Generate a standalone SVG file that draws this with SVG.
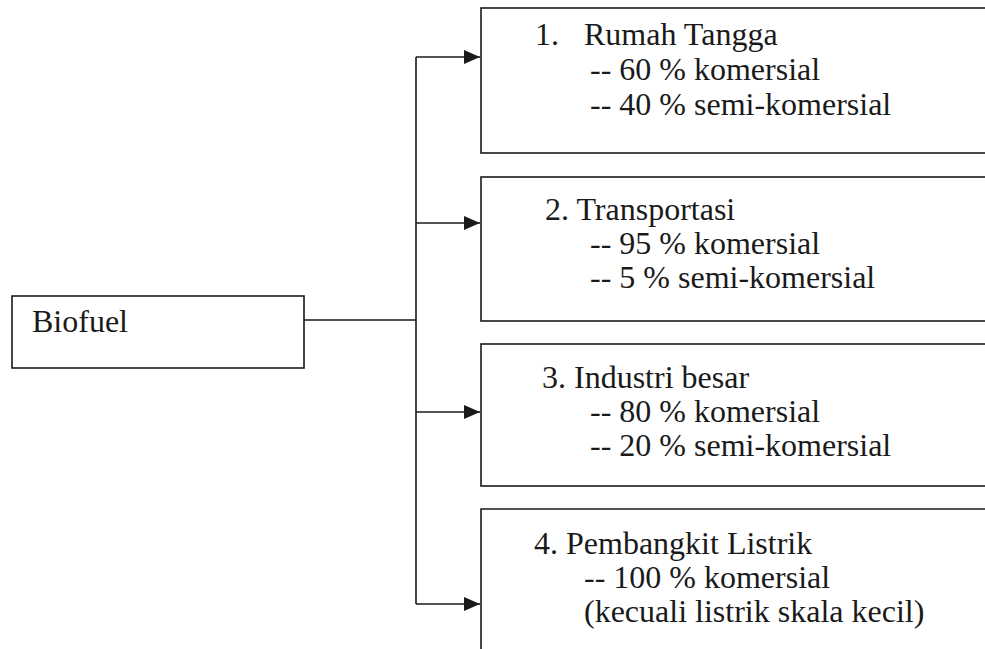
<svg xmlns="http://www.w3.org/2000/svg" width="985" height="649" viewBox="0 0 985 649">
<style>
.box{fill:none;stroke:#1a1a1a;stroke-width:1.6}
.ln{fill:none;stroke:#1a1a1a;stroke-width:1.6}
.t{font-family:'Liberation Serif','DejaVu Serif','Times New Roman',serif;font-size:32px;fill:#1a1a1a}
</style>
<defs>
<marker id="arr" markerUnits="userSpaceOnUse" markerWidth="17" markerHeight="14" refX="16" refY="7" orient="auto">
<path d="M0,0 L16,7 L0,14 Z" fill="#1a1a1a"/>
</marker>
</defs>
<rect width="985" height="649" fill="#ffffff"/>
<g id="connectors">
<path class="ln" d="M304,320 H416"/>
<path class="ln" d="M416,57 V604"/>
<path class="ln" d="M416,57 H480" marker-end="url(#arr)"/>
<path class="ln" d="M416,223 H480" marker-end="url(#arr)"/>
<path class="ln" d="M416,412 H480" marker-end="url(#arr)"/>
<path class="ln" d="M416,604 H480" marker-end="url(#arr)"/>
</g>
<g id="biofuel" class="t" font-family="Liberation Serif, serif">
<rect class="box" x="12" y="296" width="292" height="72"/>
<text x="32" y="332">Biofuel</text>
</g>
<g id="rumah-tangga" class="t" font-family="Liberation Serif, serif">
<rect class="box" x="481" y="8" width="520" height="145"/>
<text x="535" y="45">1.</text>
<text x="584" y="45">Rumah Tangga</text>
<text x="590" y="80">-- 60 % komersial</text>
<text x="590" y="115">-- 40 % semi-komersial</text>
</g>
<g id="transportasi" class="t" font-family="Liberation Serif, serif">
<rect class="box" x="481" y="177" width="520" height="144"/>
<text x="545" y="220">2. Transportasi</text>
<text x="590" y="254">-- 95 % komersial</text>
<text x="590" y="288">-- 5 % semi-komersial</text>
</g>
<g id="industri-besar" class="t" font-family="Liberation Serif, serif">
<rect class="box" x="481" y="344" width="520" height="142"/>
<text x="542" y="388">3. Industri besar</text>
<text x="590" y="422">-- 80 % komersial</text>
<text x="590" y="456">-- 20 % semi-komersial</text>
</g>
<g id="pembangkit-listrik" class="t" font-family="Liberation Serif, serif">
<path class="box" d="M1001,509 H481 V660"/>
<text x="534" y="554">4. Pembangkit Listrik</text>
<text x="584" y="588">-- 100 % komersial</text>
<text x="584" y="622">(kecuali listrik skala kecil)</text>
</g>
</svg>
